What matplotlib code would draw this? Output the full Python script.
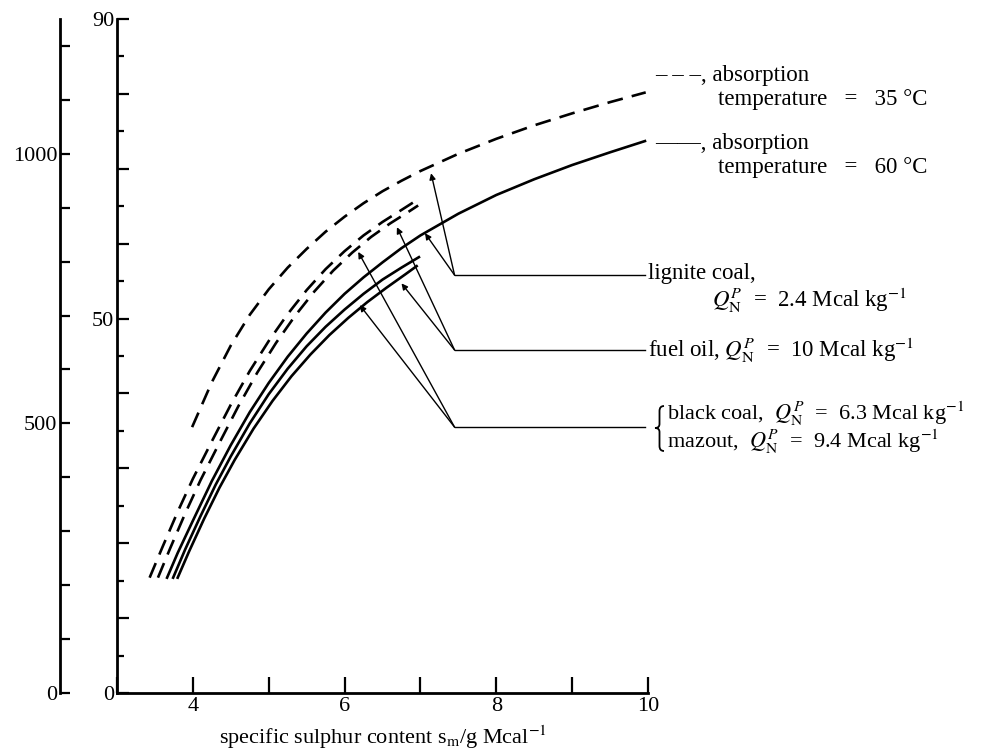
import matplotlib
matplotlib.use("Agg")
import matplotlib.pyplot as plt
from matplotlib.path import Path
from matplotlib.patches import PathPatch

plt.rcParams['font.family'] = ['Liberation Serif', 'DejaVu Serif']
plt.rcParams['mathtext.fontset'] = 'stix'

# ---- data (x: specific sulphur content, y: inner scale) ----
lignite35_x = [3.99, 4.25, 4.5, 4.75, 5.0, 5.25, 5.5, 5.75, 6.0, 6.25, 6.5, 6.75, 7.0, 7.5, 8.0, 8.5, 9.0, 9.5, 9.97]
lignite35_y = [35.5, 41.5, 46.4, 50.5, 53.9, 56.8, 59.3, 61.6, 63.6, 65.4, 67.0, 68.4, 69.7, 72.0, 74.0, 75.8, 77.4, 78.9, 80.2]

lignite60_x = [3.66, 3.8, 4.0, 4.25, 4.5, 4.75, 5.0, 5.25, 5.5, 5.75, 6.0, 6.25, 6.5, 6.75, 7.0, 7.5, 8.0, 8.5, 9.0, 9.5, 9.96]
lignite60_y = [15.4, 18.7, 23.0, 28.3, 33.1, 37.5, 41.4, 44.9, 48.0, 50.8, 53.3, 55.5, 57.5, 59.4, 61.1, 64.0, 66.5, 68.6, 70.5, 72.2, 73.7]

fuel35_x = [3.43, 3.6, 3.8, 4.0, 4.25, 4.5, 4.75, 5.0, 5.25, 5.5, 5.75, 6.0, 6.25, 6.5, 6.75, 6.95]
fuel35_y = [15.4, 19.5, 24.2, 28.6, 33.6, 38.5, 43.0, 47.0, 50.6, 53.8, 56.6, 59.0, 61.1, 62.9, 64.5, 65.8]

black35_x = [3.54, 3.7, 3.9, 4.1, 4.35, 4.6, 4.85, 5.1, 5.35, 5.6, 5.85, 6.1, 6.35, 6.6, 6.85, 6.97]
black35_y = [15.4, 19.3, 24.0, 28.4, 33.4, 38.3, 42.8, 46.8, 50.4, 53.6, 56.4, 58.8, 60.9, 62.7, 64.3, 65.1]

fuel60_x = [3.74, 3.9, 4.1, 4.3, 4.5, 4.75, 5.0, 5.25, 5.5, 5.75, 6.0, 6.25, 6.5, 6.75, 6.98]
fuel60_y = [15.4, 19.2, 23.6, 27.8, 31.6, 36.0, 39.9, 43.3, 46.3, 48.9, 51.2, 53.3, 55.2, 56.8, 58.2]

black60_x = [3.8, 3.95, 4.15, 4.35, 4.55, 4.8, 5.05, 5.3, 5.55, 5.8, 6.05, 6.3, 6.55, 6.8, 6.95]
black60_y = [15.4, 18.9, 23.3, 27.4, 31.1, 35.3, 39.0, 42.3, 45.2, 47.8, 50.1, 52.2, 54.1, 55.9, 57.0]

# annotation vertices and arrow tips (data coords)
lignite_vertex = (7.45, 55.8)
lignite_tips = [(7.14, 69.4), (7.06, 61.4)]
fuel_vertex = (7.45, 45.8)
fuel_tips = [(6.69, 62.2), (6.75, 54.7)]
black_vertex = (7.45, 35.5)
black_tips = [(6.18, 58.9), (6.20, 51.8)]
leader_end_x = 9.96

x_ticks = [3, 4, 5, 6, 7, 8, 9, 10]
x_labels = ['', '4', '', '6', '', '8', '', '10']
inner_major = list(range(0, 91, 10))
inner_minor = list(range(5, 90, 10))
inner_labels = {0: '0', 50: '50', 90: '90'}
outer_ticks = list(range(0, 1201, 100))
outer_labels = {0: '0', 500: '500', 1000: '1000'}

W, H = 1007, 752
fig = plt.figure(figsize=(W / 100, H / 100), dpi=100)

def fx(px):
    return px / W

def fy(py):
    return 1 - py / H

left, right, top, bottom = 117, 648, 19, 693
ax = fig.add_axes([fx(left), fy(bottom), (right - left) / W, (bottom - top) / H])
ax.set_xlim(3, 10)
ax.set_ylim(0, 90)
for s in ['top', 'right']:
    ax.spines[s].set_visible(False)
for s in ['left', 'bottom']:
    ax.spines[s].set_linewidth(2.0)

ax.set_xticks(x_ticks)
ax.set_xticklabels(x_labels)
ax.set_yticks(inner_major)
ax.set_yticklabels([inner_labels.get(v, '') for v in inner_major])
ax.set_yticks(inner_minor, minor=True)
ax.tick_params(axis='x', direction='in', length=11.5, width=1.6, labelsize=16, pad=3)
ax.tick_params(axis='y', which='major', direction='in', length=8.5, width=1.6, labelsize=16, pad=2)
ax.tick_params(axis='y', which='minor', direction='in', length=5, width=1.6)
ax.patch.set_visible(False)

lw = 1.9
dash = (0, (6, 3.5))
ax.plot(lignite35_x, lignite35_y, color='black', lw=lw, linestyle=dash)
ax.plot(fuel35_x, fuel35_y, color='black', lw=lw, linestyle=dash)
ax.plot(black35_x, black35_y, color='black', lw=lw, linestyle=dash)
ax.plot(lignite60_x, lignite60_y, color='black', lw=lw)
ax.plot(fuel60_x, fuel60_y, color='black', lw=lw)
ax.plot(black60_x, black60_y, color='black', lw=lw)

for vert, tips in [(lignite_vertex, lignite_tips), (fuel_vertex, fuel_tips), (black_vertex, black_tips)]:
    ax.plot([vert[0], leader_end_x], [vert[1], vert[1]], color='black', lw=1.0, clip_on=False)
    for t in tips:
        ax.annotate('', xy=t, xytext=vert,
                    arrowprops=dict(arrowstyle='-|>', lw=1.0, color='black',
                                    mutation_scale=9, shrinkA=0, shrinkB=0))

ax.set_xlabel(r'specific sulphur content s$_{\mathrm{m}}$/g Mcal$^{-1}$', fontsize=16, labelpad=5)

# outer axis
ox = 60
ax2 = fig.add_axes([fx(ox), fy(bottom), 0.001, (bottom - top) / H])
ax2.set_ylim(0, 90 * 1000 / 72)
ax2.set_xlim(0, 1)
for s in ['top', 'right', 'bottom']:
    ax2.spines[s].set_visible(False)
ax2.spines['left'].set_linewidth(2.0)
ax2.set_xticks([])
ax2.set_yticks(outer_ticks)
ax2.set_yticklabels([outer_labels.get(v, '') for v in outer_ticks])
ax2.tick_params(axis='y', direction='in', length=7.5, width=1.6, labelsize=16, pad=2)
ax2.patch.set_visible(False)

fs = 16.5
fig.text(fx(655), fy(75), '– – –, absorption', fontsize=fs, va='center', ha='left')
fig.text(fx(718), fy(100), 'temperature   =   35 °C', fontsize=fs, va='center', ha='left')
fig.text(fx(655), fy(143), '——, absorption', fontsize=fs, va='center', ha='left')
fig.text(fx(718), fy(168), 'temperature   =   60 °C', fontsize=fs, va='center', ha='left')
fig.text(fx(648), fy(274), 'lignite coal,', fontsize=fs, va='center', ha='left')
fig.text(fx(712), fy(300), r'$Q_{\mathrm{N}}^{P}$  =  2.4 Mcal kg$^{-1}$', fontsize=fs, va='center', ha='left')
fig.text(fx(648), fy(350), r'fuel oil, $Q_{\mathrm{N}}^{P}$  =  10 Mcal kg$^{-1}$', fontsize=fs, va='center', ha='left')
fs2 = 16
fig.text(fx(667), fy(414), r'black coal,  $Q_{\mathrm{N}}^{P}$  =  6.3 Mcal kg$^{-1}$', fontsize=fs2, va='center', ha='left')
fig.text(fx(667), fy(442), r'mazout,  $Q_{\mathrm{N}}^{P}$  =  9.4 Mcal kg$^{-1}$', fontsize=fs2, va='center', ha='left')

# curly brace drawn as a path (figure pixels)
bx_end, bx_mid, bx_tip = 664, 659.5, 655
by_top, by_mid, by_bot = 406, 428, 451
brace_pts = [(bx_end, by_top), (bx_mid, by_top), (bx_mid, by_top + 5),
             (bx_mid, by_mid - 4),
             (bx_mid, by_mid), (bx_tip, by_mid),
             (bx_mid, by_mid), (bx_mid, by_mid + 4),
             (bx_mid, by_bot - 5),
             (bx_mid, by_bot), (bx_end, by_bot)]
codes = [Path.MOVETO, Path.CURVE3, Path.CURVE3, Path.LINETO,
         Path.CURVE3, Path.CURVE3, Path.CURVE3, Path.CURVE3,
         Path.LINETO, Path.CURVE3, Path.CURVE3]
brace = Path([(fx(a), fy(b)) for a, b in brace_pts], codes)
fig.patches.append(PathPatch(brace, transform=fig.transFigure, fill=False, lw=1.3, color='black'))

fig.savefig('out.png', dpi=100)
